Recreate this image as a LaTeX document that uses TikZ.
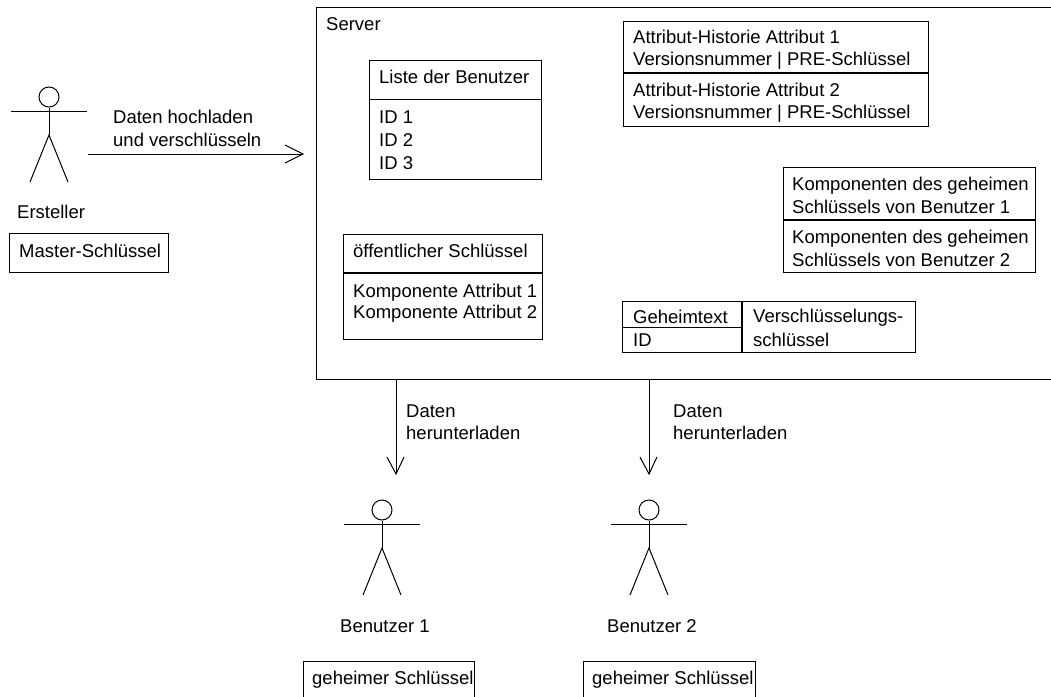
\documentclass[tikz,border=0pt]{standalone}
\usepackage{fontspec}
\setmainfont{Liberation Sans}
\tikzset{
  px/.style={x=1pt,y=-1pt},
  boxn/.style={draw=black,line width=1pt,rectangle,inner sep=0pt,anchor=north west},
  txt/.style={anchor=base west,inner sep=0pt,font=\fontsize{18.5}{18.5}\selectfont,text=black},
  stick/.style={draw=black,line width=1pt},
  divider/.style={draw=black,line width=1.8pt},
  conn/.style={draw=black,line width=1pt}
}
\newcommand{\boxat}[5]{\node[boxn,minimum width=#4pt-#2pt,minimum height=#5pt-#3pt] (#1) at (#2,#3) {};}
\newcommand{\actor}[3]{%
  \node[draw=black,line width=1pt,circle,minimum size=20pt,inner sep=0pt] (#1head) at (#2,#3) {};
  \coordinate (#1neck) at (#2,#3+14);
  \coordinate (#1hip) at (#2,#3+38);
  \coordinate (#1armL) at (#2-38,#3+14);
  \coordinate (#1armR) at (#2+38,#3+14);
  \coordinate (#1legL) at (#2-19,#3+85);
  \coordinate (#1legR) at (#2+19,#3+85);
  \draw[stick] (#1head.south) -- (#1hip);
  \draw[stick] (#1armL) -- (#1armR);
  \draw[stick] (#1legL) -- (#1hip) -- (#1legR);
}
\begin{document}
\begin{tikzpicture}[px]
\useasboundingbox (0,0) rectangle (1051,696);
% Server
\boxat{server}{316}{7}{1070}{379}
\node[txt] (tserver) at (326,30) {Server};
% Ersteller
\actor{cr}{49}{97}
\node[txt] (tcr) at (17,218) {Ersteller};
\boxat{master}{9}{233}{168}{272}
\node[txt] (tmaster) at (19,257) {Master-Schlüssel};
% upload arrow
\coordinate (upstart) at (88,154);
\coordinate (upend) at (303,154);
\coordinate (upa) at (285,145);
\coordinate (upb) at (285,163);
\draw[conn] (upstart) -- (upend);
\draw[conn] (upa) -- (upend) -- (upb);
\node[txt] (tup1) at (113,123) {Daten hochladen};
\node[txt] (tup2) at (113,146) {und verschlüsseln};
% Liste
\boxat{liste}{369}{60}{541}{179}
\coordinate (listeL) at (369,99.5);\coordinate (listeR) at (541,99.5);
\draw[divider] (listeL) -- (listeR);
\node[txt] (tl0) at (379,83) {Liste der Benutzer};
\node[txt] (tl1) at (379,123) {ID 1};
\node[txt] (tl2) at (379,146) {ID 2};
\node[txt] (tl3) at (379,169) {ID 3};
% oeffentlicher
\boxat{pub}{343}{234}{542}{339}
\coordinate (pubL) at (343,273);\coordinate (pubR) at (542,273);
\draw[divider] (pubL) -- (pubR);
\node[txt] (tp0) at (353,257) {öffentlicher Schlüssel};
\node[txt] (tp1) at (353,297) {Komponente Attribut 1};
\node[txt] (tp2) at (353,318) {Komponente Attribut 2};
% Attribut-Historie
\boxat{hist}{623}{21}{928}{126}
\coordinate (histL) at (623,73);\coordinate (histR) at (928,73);
\draw[divider] (histL) -- (histR);
\node[txt] (th1) at (633,43) {Attribut-Historie Attribut 1};
\node[txt] (th2) at (633,65) {Versionsnummer | PRE-Schlüssel};
\node[txt] (th3) at (633,96) {Attribut-Historie Attribut 2};
\node[txt] (th4) at (633,118) {Versionsnummer | PRE-Schlüssel};
% Komponenten
\boxat{komp}{783}{167}{1035}{272}
\coordinate (kompL) at (783,220);\coordinate (kompR) at (1035,220);
\draw[divider] (kompL) -- (kompR);
\node[txt] (tk1) at (792,190) {Komponenten des geheimen};
\node[txt] (tk2) at (792,213) {Schlüssels von Benutzer 1};
\node[txt] (tk3) at (792,243) {Komponenten des geheimen};
\node[txt] (tk4) at (792,266) {Schlüssels von Benutzer 2};
% Geheimtext
\boxat{geh}{622}{301}{915}{352}
\coordinate (gehT) at (742,301);\coordinate (gehB) at (742,352);
\coordinate (gehL) at (622,327);\coordinate (gehM) at (742,327);
\draw[divider] (gehT) -- (gehB);
\draw[conn] (gehL) -- (gehM);
\node[txt] (tg1) at (633,323) {Geheimtext};
\node[txt] (tg2) at (633,346) {ID};
\node[txt] (tg3) at (753,322) {Verschlüsselungs-};
\node[txt] (tg4) at (753,346) {schlüssel};
% download arrows
\coordinate (d1s) at (396,379);\coordinate (d1e) at (396,474);
\coordinate (d1a) at (387,457);\coordinate (d1b) at (404,457);
\draw[conn] (d1s) -- (d1e);
\draw[conn] (d1a) -- (d1e) -- (d1b);
\node[txt] (td1) at (406,417) {Daten};
\node[txt] (td2) at (406,439) {herunterladen};
\coordinate (d2s) at (649,379);\coordinate (d2e) at (649,474);
\coordinate (d2a) at (640,457);\coordinate (d2b) at (657,457);
\draw[conn] (d2s) -- (d2e);
\draw[conn] (d2a) -- (d2e) -- (d2b);
\node[txt] (td3) at (673,417) {Daten};
\node[txt] (td4) at (673,439) {herunterladen};
% Users
\actor{ua}{382}{510}
\node[txt] (tua) at (340,632) {Benutzer 1};
\boxat{ska}{303}{661}{474}{710}
\node[txt] (tska) at (312,684) {geheimer Schlüssel};
\actor{ub}{649}{510}
\node[txt] (tub) at (607,632) {Benutzer 2};
\boxat{skb}{583}{661}{755}{710}
\node[txt] (tskb) at (592,684) {geheimer Schlüssel};
\end{tikzpicture}
\end{document}
